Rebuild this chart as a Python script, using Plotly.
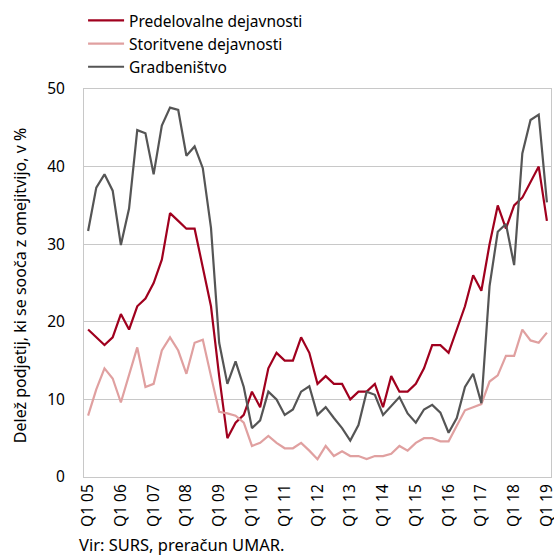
import plotly.graph_objects as go

years = ["05", "06", "07", "08", "09", "10", "11", "12", "13", "14", "15", "16", "17", "18", "19"]
quarters = ["Q1", "Q2", "Q3", "Q4"]
categories = [f"{q} {y}" for y in years[:-1] for q in quarters] + ["Q1 19"]
tick_labels = [f"Q1 {y}" for y in years]

predelovalne = [19, 18, 17, 18, 21, 19, 22, 23, 25, 28, 34, 33, 32, 32, 27, 22,
                13, 5, 7, 8, 11, 9, 14, 16, 15, 15, 18, 16, 12, 13, 12, 12,
                10, 11, 11, 12, 9, 13, 11, 11, 12, 14, 17, 17, 16, 19, 22, 26,
                24, 30, 35, 32, 35, 36, 38, 40, 33]
storitvene = [7.9, 11.3, 14.0, 12.7, 9.6, 13.1, 16.7, 11.6, 12.0, 16.3, 18.0, 16.3, 13.3, 17.3, 17.7, 13.0,
              8.4, 8.2, 7.9, 7.0, 4.0, 4.4, 5.3, 4.4, 3.7, 3.7, 4.4, 3.4, 2.3, 4.0, 2.7, 3.3,
              2.7, 2.7, 2.3, 2.7, 2.7, 3.0, 4.0, 3.4, 4.4, 5.0, 5.0, 4.6, 4.6, 6.6, 8.6, 9.0,
              9.4, 12.3, 13.1, 15.6, 15.6, 19.0, 17.6, 17.3, 18.6]
gradbenistvo = [31.7, 37.3, 39.0, 36.9, 29.9, 34.6, 44.7, 44.3, 39.0, 45.3, 47.6, 47.3, 41.4, 42.6, 39.8, 32.1,
                17.3, 12.0, 14.9, 11.6, 6.3, 7.3, 11.0, 10.0, 8.0, 8.7, 11.0, 11.7, 8.0, 9.0, 7.6, 6.3,
                4.7, 6.7, 11.0, 10.6, 8.0, 9.2, 10.3, 8.2, 7.0, 8.7, 9.3, 8.3, 5.7, 7.6, 11.6, 13.3,
                9.5, 24.6, 31.6, 32.6, 27.3, 41.7, 46.0, 46.7, 35.4]

series = [
    ("Predelovalne dejavnosti", predelovalne, "#a0001e"),
    ("Storitvene dejavnosti", storitvene, "#e0a0a0"),
    ("Gradbeništvo", gradbenistvo, "#555555"),
]

FONT = "Noto Sans"
FS = 15.5

fig = go.Figure()
for i, (name, vals, color) in enumerate(series):
    fig.add_trace(go.Scatter(
        x=categories, y=vals, name=name, mode="lines",
        line=dict(color=color, width=2.2),
    ))

fig.update_layout(
    width=554, height=556,
    margin=dict(l=84, r=3, t=89, b=79, autoexpand=False),
    paper_bgcolor="white", plot_bgcolor="white",
    font=dict(family=FONT, size=FS, color="#000000"),
    showlegend=True,
    legend=dict(
        x=-0.002, y=0.993, xref="paper", yref="container",
        xanchor="left", yanchor="top",
        bgcolor="rgba(0,0,0,0)", borderwidth=0,
        itemwidth=36, tracegroupgap=0,
        font=dict(family=FONT, size=FS, color="#000000"),
    ),
    xaxis=dict(
        type="category",
        categoryorder="array", categoryarray=categories,
        range=[-0.5, len(categories) - 0.5],
        tickmode="array", tickvals=tick_labels, ticktext=tick_labels,
        tickangle=-90,
        showgrid=False,
        showline=True, linecolor="#c8c8c8", linewidth=1, mirror=True,
        ticks="", zeroline=False, automargin=False,
        tickfont=dict(family=FONT, size=FS, color="#000000"),
    ),
    yaxis=dict(
        range=[0, 50], dtick=10, tick0=0,
        showgrid=True, gridcolor="#c8c8c8", gridwidth=1,
        showline=True, linecolor="#c8c8c8", linewidth=1, mirror=True,
        zeroline=False, ticks="", automargin=False,
        ticklabelstandoff=15,
        tickfont=dict(family=FONT, size=FS, color="#000000"),
    ),
    annotations=[
        dict(
            text="Delež podjetij, ki se sooča z omejitvijo, v %", textangle=-90,
            xref="paper", yref="paper", x=-0.137, y=0.492,
            xanchor="center", yanchor="middle", showarrow=False,
            font=dict(family=FONT, size=16, color="#000000"),
        ),
        dict(
            text="Vir: SURS, preračun UMAR.", xref="paper", yref="paper",
            x=-0.015, y=-0.174, xanchor="left", yanchor="middle", showarrow=False,
            font=dict(family=FONT, size=16.5, color="#000000"),
        ),
    ],
)

fig.write_html(
    "out.html",
    config={"displayModeBar": False},
    post_script="document.body.style.margin='0px';document.body.style.overflow='hidden';",
)
